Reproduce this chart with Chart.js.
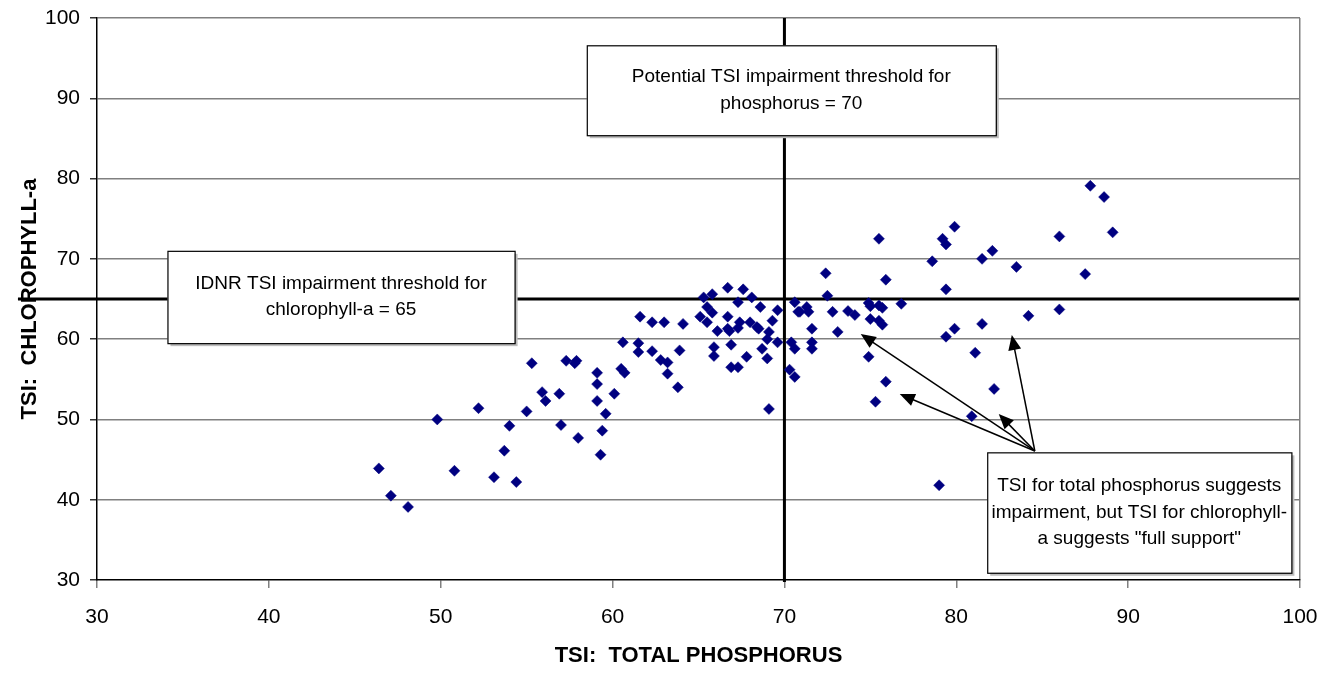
<!DOCTYPE html>
<html>
<head>
<meta charset="utf-8">
<script src="https://cdn.jsdelivr.net/npm/chart.js@4.4.0/dist/chart.umd.min.js"></script>
<style>
  html, body { margin: 0; padding: 0; background: #fff; }
  canvas { display: block; }
</style>
</head>
<body>
<canvas id="chart" width="1338" height="675"></canvas>
<script>
// TSI values
const tsiPhosphorus = [
    46.4, 47.1, 48.1, 49.8, 50.8, 52.2, 53.1, 53.7, 54.0, 54.4,
    55.0, 55.3, 55.9, 56.1, 56.9, 57.0, 57.3, 57.8, 57.9, 58.0,
    59.1, 59.1, 59.1, 59.6, 59.4, 59.3, 60.1, 60.5, 60.7, 60.6,
    61.5, 61.5, 62.3, 62.8, 63.2, 63.2, 63.9, 63.8, 61.6, 62.3,
    63.0, 64.1, 65.1, 65.3, 65.8, 65.5, 65.8, 65.5, 66.1, 65.9,
    65.9, 66.7, 66.7, 66.7, 66.8, 66.9, 66.9, 67.3, 67.4, 67.3,
    67.6, 67.8, 67.3, 68.0, 68.1, 68.4, 68.5, 68.6, 69.3, 69.1,
    69.0, 68.7, 69.0, 69.6, 69.6, 69.1, 70.6, 70.8, 70.4, 70.6,
    70.3, 70.6, 72.4, 72.5, 70.9, 71.3, 71.4, 72.8, 71.6, 71.6,
    71.6, 73.1, 73.7, 74.1, 74.9, 75.0, 75.5, 75.7, 75.0, 75.5,
    75.7, 75.9, 74.9, 75.9, 75.3, 76.8, 78.6, 79.4, 79.4, 79.9,
    81.5, 83.5, 81.5, 81.1, 82.2, 80.9, 84.2, 86.0, 82.1, 75.5,
    79.2, 79.4, 79.9, 86.0, 79.0, 87.8, 88.6, 89.1, 87.5
];
const tsiChlorophyll = [
    43.9, 40.5, 39.1, 50.0, 43.6, 51.4, 42.8, 46.1, 49.2, 42.2,
    51.0, 57.0, 53.4, 52.3, 53.2, 49.3, 57.3, 57.0, 57.3, 47.7,
    55.8, 54.4, 52.3, 50.7, 48.6, 45.6, 53.2, 56.3, 55.8, 59.6,
    59.5, 58.4, 58.5, 57.4, 57.1, 55.7, 58.6, 54.0, 62.8, 62.1,
    62.1, 61.9, 62.8, 65.2, 65.6, 64.0, 63.3, 62.1, 61.0, 59.0,
    57.9, 66.4, 62.8, 61.3, 61.0, 59.3, 56.5, 64.6, 62.1, 61.4,
    66.2, 57.8, 56.5, 62.1, 65.2, 61.5, 61.3, 64.0, 62.3, 60.9,
    60.0, 58.8, 57.6, 63.6, 59.6, 51.3, 64.6, 63.4, 59.6, 58.8,
    56.2, 55.3, 68.2, 65.4, 63.4, 64.0, 63.4, 63.4, 61.3, 59.6,
    58.8, 60.9, 63.5, 63.0, 64.5, 64.1, 64.2, 63.9, 62.5, 62.3,
    61.8, 67.4, 57.8, 54.7, 52.2, 64.4, 69.7, 66.2, 60.3, 61.3,
    70.0, 69.0, 61.9, 58.3, 53.8, 50.4, 62.9, 63.7, 71.0, 72.5,
    72.5, 71.8, 74.0, 72.8, 41.8, 79.1, 77.7, 73.3, 68.1
];

const xTicks = [30, 40, 50, 60, 70, 80, 90, 100];
const yTicks = [30, 40, 50, 60, 70, 80, 90, 100];

const phosphorusThreshold = 70;
const chlorophyllThreshold = 65;

const FONT = "'Liberation Sans', Arial, sans-serif";

// text boxes and arrows, in axis units
const notes = [
    { x1: 58.5, x2: 82.3, y1: 96.6, y2: 85.4,
      lines: ['Potential TSI impairment threshold for', 'phosphorus = 70'] },
    { x1: 34.1, x2: 54.3, y1: 71.0, y2: 59.5,
      lines: ['IDNR TSI impairment threshold for', 'chlorophyll-a = 65'] },
    { x1: 81.8, x2: 99.5, y1: 45.9, y2: 30.9,
      lines: ['TSI for total phosphorus suggests', 'impairment, but TSI for chlorophyll-', 'a suggests "full support"'] }
];
const arrowTail = { x: 84.57, y: 46.07 };
const arrowTips = [
    { x: 74.44, y: 60.63 },
    { x: 76.71, y: 53.16 },
    { x: 82.47, y: 50.67 },
    { x: 83.23, y: 60.51 }
];

const points = tsiPhosphorus.map((x, i) => ({ x: x, y: tsiChlorophyll[i] }));

function drawArrow(ctx, x0, y0, x1, y1) {
    const ang = Math.atan2(y1 - y0, x1 - x0);
    const len = 15, half = 6.5;
    ctx.beginPath();
    ctx.moveTo(x0, y0);
    ctx.lineTo(x1 - Math.cos(ang) * len * 0.8, y1 - Math.sin(ang) * len * 0.8);
    ctx.stroke();
    ctx.beginPath();
    ctx.moveTo(x1, y1);
    ctx.lineTo(x1 - Math.cos(ang) * len + Math.sin(ang) * half, y1 - Math.sin(ang) * len - Math.cos(ang) * half);
    ctx.lineTo(x1 - Math.cos(ang) * len - Math.sin(ang) * half, y1 - Math.sin(ang) * len + Math.cos(ang) * half);
    ctx.closePath();
    ctx.fill();
}

const overlay = {
    id: 'overlay',
    beforeDraw(chart) {
        // chlorophyll threshold, runs out past the axis (under the axis title)
        const ctx = chart.ctx;
        const xs = chart.scales.x, ys = chart.scales.y;
        const hy = ys.getPixelForValue(chlorophyllThreshold);
        ctx.save();
        ctx.strokeStyle = '#000';
        ctx.lineWidth = 3;
        ctx.beginPath();
        ctx.moveTo(xs.getPixelForValue(25.4), hy);
        ctx.lineTo(chart.chartArea.right, hy);
        ctx.stroke();
        ctx.restore();
    },
    beforeDatasetsDraw(chart) {
        const ctx = chart.ctx;
        const xs = chart.scales.x;
        const area = chart.chartArea;
        ctx.save();
        ctx.strokeStyle = '#000';
        ctx.lineWidth = 3;
        const vx = xs.getPixelForValue(phosphorusThreshold);
        ctx.beginPath();
        ctx.moveTo(vx, area.top);
        ctx.lineTo(vx, area.bottom + 2);
        ctx.stroke();
        ctx.restore();
    },
    afterDatasetsDraw(chart) {
        const ctx = chart.ctx;
        const xs = chart.scales.x, ys = chart.scales.y;
        ctx.save();
        ctx.strokeStyle = '#000';
        ctx.fillStyle = '#000';
        ctx.lineWidth = 1.5;
        const tx = xs.getPixelForValue(arrowTail.x), ty = ys.getPixelForValue(arrowTail.y);
        arrowTips.forEach(t => {
            drawArrow(ctx, tx, ty, xs.getPixelForValue(t.x), ys.getPixelForValue(t.y));
        });

        notes.forEach(n => {
            const l = xs.getPixelForValue(n.x1), r = xs.getPixelForValue(n.x2);
            const t = ys.getPixelForValue(n.y1), b = ys.getPixelForValue(n.y2);
            ctx.fillStyle = '#bdbdbd';
            ctx.fillRect(l + 3, t + 3, r - l, b - t);
            ctx.fillStyle = '#fff';
            ctx.fillRect(l, t, r - l, b - t);
            ctx.strokeStyle = '#000';
            ctx.lineWidth = 1.2;
            ctx.strokeRect(l + 0.5, t + 0.5, r - l, b - t);
            ctx.fillStyle = '#000';
            ctx.font = '19px ' + FONT;
            ctx.textAlign = 'center';
            ctx.textBaseline = 'middle';
            const cx = (l + r) / 2, cy = (t + b) / 2;
            const step = 26.5;
            n.lines.forEach((s, i) => {
                ctx.fillText(s, cx, cy + (i - (n.lines.length - 1) / 2) * step);
            });
        });
        ctx.restore();
    }
};

new Chart(document.getElementById('chart'), {
    type: 'scatter',
    data: {
        datasets: [{
            data: points,
            pointStyle: 'rectRot',
            pointRadius: 5.5,
            backgroundColor: '#000080',
            borderColor: '#000080',
            borderWidth: 0.5
        }]
    },
    options: {
        responsive: false,
        animation: false,
        devicePixelRatio: 1,
        layout: { padding: { left: 0, right: 38, top: 18, bottom: 0 } },
        plugins: {
            legend: { display: false },
            tooltip: { enabled: false }
        },
        scales: {
            x: {
                type: 'linear',
                min: 30,
                max: 100,
                afterBuildTicks: s => { s.ticks = xTicks.map(v => ({ value: v })); },
                afterFit: s => { s.height = 95; },
                ticks: { color: '#000', font: { size: 21, family: FONT }, padding: 17, maxRotation: 0 },
                grid: {
                    color: c => (c.tick && c.tick.value === 100) ? '#808080' : 'rgba(0,0,0,0)',
                    tickColor: '#808080',
                    tickLength: 8,
                    lineWidth: 1.5
                },
                border: { color: '#000', width: 1.5 },
                title: {
                    display: true,
                    text: 'TSI:  TOTAL PHOSPHORUS',
                    color: '#000',
                    font: { size: 22, weight: 'bold', family: FONT },
                    padding: { top: 0, bottom: 6 }
                }
            },
            y: {
                type: 'linear',
                min: 30,
                max: 100,
                afterBuildTicks: s => { s.ticks = yTicks.map(v => ({ value: v })); },
                afterFit: s => { s.width = 97; s.paddingTop = 0; },
                ticks: { color: '#000', font: { size: 21, family: FONT }, padding: 10 },
                grid: {
                    color: c => (c.tick && c.tick.value === 30) ? 'rgba(0,0,0,0)' : '#808080',
                    tickColor: '#333',
                    tickLength: 7,
                    lineWidth: 1.5
                },
                border: { color: '#000', width: 1.5 },
                title: {
                    display: true,
                    text: 'TSI:  CHLOROPHYLL-a',
                    color: '#000',
                    font: { size: 22, weight: 'bold', family: FONT },
                    padding: { top: 17, bottom: 0 }
                }
            }
        }
    },
    plugins: [overlay]
});
</script>
</body>
</html>
